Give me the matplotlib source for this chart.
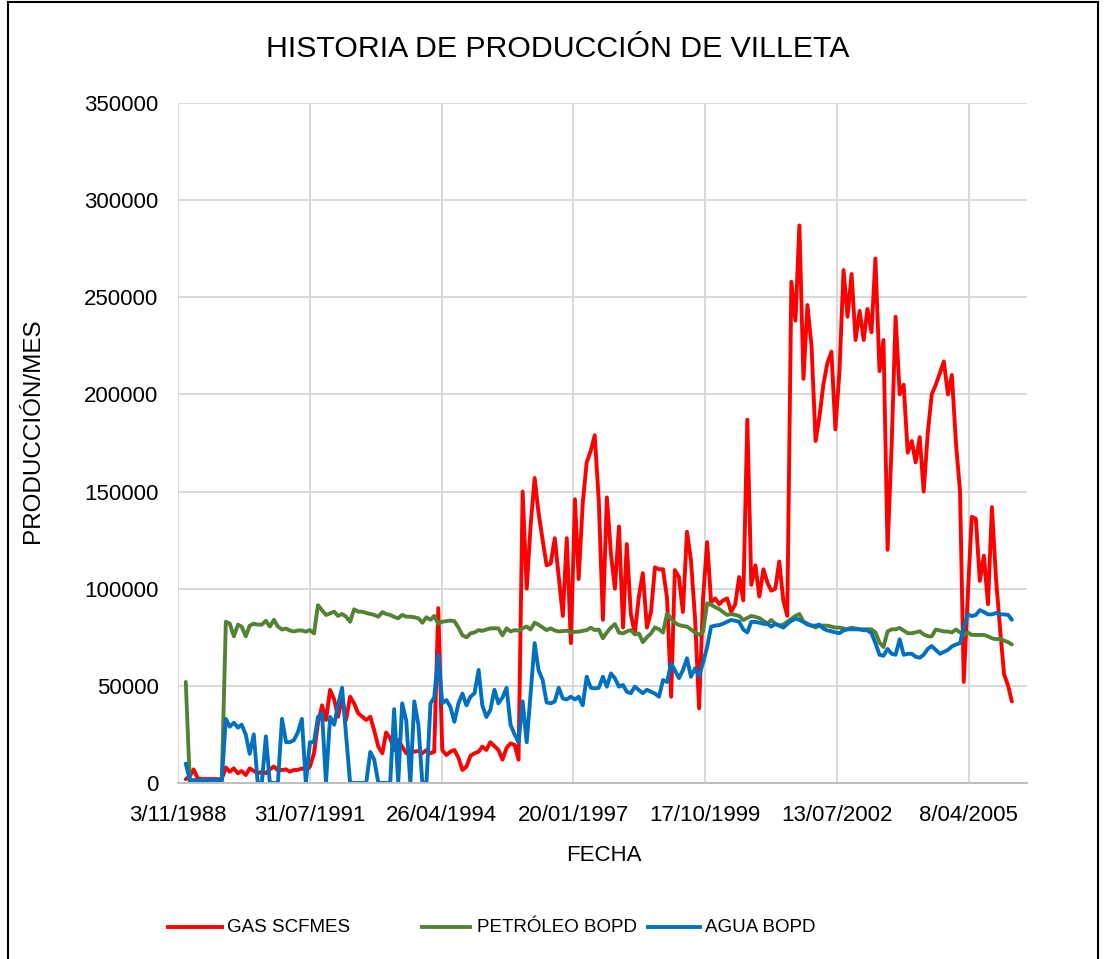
import numpy as np
import pandas as pd
import matplotlib
matplotlib.use("Agg")
import matplotlib.pyplot as plt
from matplotlib.lines import Line2D

plt.rcParams['font.family'] = ['Liberation Sans', 'DejaVu Sans']

# ---------------- data ----------------
title = "HISTORIA DE PRODUCCIÓN DE VILLETA"
x_label = "FECHA"
y_label = "PRODUCCIÓN/MES"
series_names = ["GAS SCFMES", "PETRÓLEO BOPD", "AGUA BOPD"]
first_month = "1989-01-01"
axis_start = "3/11/1988"
x_tick_labels = ["3/11/1988", "31/07/1991", "26/04/1994", "20/01/1997",
                 "17/10/1999", "13/07/2002", "8/04/2005"]
y_ticks = [0, 50000, 100000, 150000, 200000, 250000, 300000, 350000]

gas = [
    2000, 3500, 7000, 2500, 2000, 2000, 2000, 2000, 2000, 2000, 8000, 5800,
    7500, 5000, 6200, 4100, 7500, 6200, 5000, 5800, 5000, 7000, 8500, 6500,
    6700, 7000, 5800, 6700, 6700, 7500, 6500, 8400, 15300, 30700, 40000, 32400,
    47900, 43000, 34100, 43600, 32400, 44400, 41000, 35900, 34100, 32400, 34100, 27000,
    18700, 15300, 26000, 23000, 17000, 22100, 18700, 15300, 17000, 16100, 16500, 15300,
    17000, 15300, 16000, 90000, 17000, 14400, 16100, 17000, 13000, 6700, 8400, 14000,
    15300, 16100, 18700, 17000, 21000, 19000, 17000, 12000, 18000, 20400, 19600, 12000,
    150000, 100000, 132000, 157000, 139000, 125000, 112000, 113000, 126000, 106000, 86000, 126000,
    72000, 146000, 105000, 144000, 165000, 171000, 179000, 145000, 84000, 147000, 118000, 100000,
    132000, 80000, 123000, 87000, 77000, 96000, 108000, 80000, 88000, 111000, 110000, 110000,
    95000, 44400, 109600, 106000, 88000, 129300, 114800, 85000, 38400, 95000, 124000, 93000,
    95000, 92000, 94000, 95000, 88000, 92000, 106000, 94000, 187000, 102000, 112000, 96000,
    110000, 103000, 99000, 100000, 114000, 94000, 86000, 258000, 238000, 287000, 208000, 246000,
    225000, 176000, 188000, 205000, 216000, 222000, 182000, 212000, 264000, 240000, 262000, 228000,
    243000, 228000, 244000, 232000, 270000, 212000, 228000, 120000, 174000, 240000, 200000, 205000,
    170000, 176000, 165000, 178000, 150000, 180000, 200000, 205000, 211000, 217000, 200000, 210000,
    175000, 150000, 52000, 97000, 137000, 136000, 104000, 117000, 92000, 142000, 105000, 80000,
    56000, 50000, 42000,
]

oil = [
    52000, 0, 0, 0, 0, 0, 0, 0, 0, 0, 83000, 82000,
    75500, 81500, 80500, 75500, 81000, 82000, 81500, 81500, 83500, 80500, 84000, 80500,
    79000, 79500, 78500, 78000, 78500, 78500, 77900, 78700, 77000, 91500, 89000, 86500,
    87300, 88200, 86000, 87000, 85600, 83000, 89400, 88200, 88200, 87500, 87000, 86500,
    85600, 88000, 87000, 86500, 85500, 84800, 86500, 85600, 85600, 85300, 84800, 82500,
    85300, 84000, 86000, 82000, 83000, 83300, 83600, 83300, 80000, 76000, 75000, 77000,
    77500, 78700, 78300, 79000, 79600, 79600, 79600, 76000, 79600, 78000, 78700, 78400,
    79600, 80500, 79000, 82500, 81500, 80000, 78700, 79600, 78500, 78000, 78200, 78400,
    77500, 77800, 77900, 78300, 78700, 79900, 78700, 79000, 74500, 77500, 80000, 81800,
    77400, 77000, 78000, 78700, 76500, 77000, 72500, 75000, 77000, 80100, 79100, 77400,
    87300, 84500, 82500, 81300, 80800, 80500, 79000, 77500, 76200, 78000, 92500, 91800,
    90500, 89500, 88000, 86500, 87000, 86500, 86000, 83900, 85000, 86000, 85500, 84900,
    83500, 82000, 83900, 82000, 81000, 81500, 83000, 84500, 86000, 87000, 83000, 82000,
    81000, 80000, 81000, 81000, 81000, 80500, 80000, 80000, 79500, 79100, 80000, 79500,
    79100, 79100, 79100, 79100, 77500, 72300, 70000, 78000, 79100, 79100, 79800, 78500,
    77100, 77100, 77500, 78100, 76500, 75500, 75500, 79000, 78500, 78000, 78000, 77500,
    79000, 77500, 76000, 77500, 76200, 76200, 76200, 76200, 75500, 74500, 74000, 74200,
    73300, 72500, 71300,
]

water = [
    10000, 1500, 1500, 1500, 1500, 1500, 1500, 1500, 1500, 1500, 33000, 29000,
    31000, 28500, 30000, 25000, 15000, 25000, 0, 0, 24000, 0, 0, 0,
    33000, 21000, 21000, 22000, 26000, 33000, 0, 21000, 21000, 34000, 36000, 0,
    34000, 30000, 40000, 49000, 25000, 0, 0, 0, 0, 0, 16000, 12000,
    0, 0, 0, 0, 38000, 0, 41000, 32000, 0, 42000, 30000, 0,
    0, 41000, 44000, 66000, 41000, 42700, 39300, 31500, 41000, 46000, 40000, 44400,
    46200, 58200, 40000, 34000, 37600, 48000, 41000, 44000, 49000, 30000, 25000, 21000,
    42000, 21000, 46000, 72000, 58000, 53000, 41500, 41000, 42000, 49000, 43500, 43000,
    44400, 43000, 44400, 40000, 54700, 49000, 48700, 49000, 54700, 49600, 56400, 53900,
    49600, 50400, 47000, 46200, 49600, 47900, 46200, 48000, 47000, 46000, 44400, 53000,
    52000, 61600, 58000, 54000, 58000, 64200, 54700, 59000, 55000, 62000, 70000, 80500,
    81000, 81300, 82000, 83000, 83900, 83500, 83000, 79000, 77500, 83000, 82900, 82500,
    81900, 81900, 80500, 81900, 81000, 80000, 81900, 83500, 84500, 84000, 82900, 81500,
    81000, 81000, 81500, 79500, 78500, 78100, 77500, 77100, 78500, 79100, 79100, 79100,
    79100, 78600, 78600, 77100, 72000, 66000, 65500, 69000, 66500, 66000, 74000, 66000,
    66500, 66500, 65000, 64500, 66000, 69000, 70500, 68500, 66500, 67500, 68500, 70300,
    71300, 72000, 80000, 86800, 85900, 86500, 89000, 88000, 86800, 86800, 87500, 86800,
    86800, 86500, 84000,
]

colors = ["#FF0000", "#548235", "#0070C0"]

# ---------------- figure ----------------
W, H = 1105, 959
fig = plt.figure(figsize=(W / 100, H / 100), dpi=100)
fig.patch.set_facecolor("white")

L, R, T, B = 178, 1027, 103, 783
ax = fig.add_axes([L / W, 1 - B / H, (R - L) / W, (B - T) / H])

dates = pd.date_range(first_month, periods=len(gas), freq="MS")
lines = []
for vals, c, name in zip([gas, oil, water], colors, series_names):
    ln, = ax.plot(dates, vals, color=c, lw=2.8, label=name,
                  solid_joinstyle="round", solid_capstyle="round")
    lines.append(ln)

t0 = pd.to_datetime(axis_start, format="%d/%m/%Y")
ax.set_xlim(t0, t0 + pd.Timedelta(days=6442))
ax.set_ylim(y_ticks[0], y_ticks[-1])

xt = [pd.to_datetime(s, format="%d/%m/%Y") for s in x_tick_labels]
ax.set_xticks(xt)
ax.set_xticklabels(x_tick_labels)
ax.set_yticks(y_ticks)
ax.set_yticklabels([str(v) for v in y_ticks])

ax.grid(True, color="#d9d9d9", lw=1.4)
ax.set_axisbelow(True)
for s in ["top", "right", "left"]:
    ax.spines[s].set_visible(False)
ax.spines["bottom"].set_color("#bfbfbf")
ax.spines["bottom"].set_linewidth(1.4)
ax.tick_params(axis="both", length=0, labelsize=16, colors="#000000")
ax.tick_params(axis="y", pad=14)
ax.tick_params(axis="x", pad=16)

ax.set_xlabel(x_label, fontsize=16)
ax.set_ylabel(y_label, fontsize=17.5)
ax.xaxis.set_label_coords((604 - L) / (R - L), (B - 845) / (B - T))
ax.yaxis.set_label_coords((44 - L) / (R - L), (B - 431) / (B - T))

fig.text(558 / W, 1 - 49 / H, title, ha="center", va="center", fontsize=21.8)

# legend drawn manually at the bottom
leg_y = 1 - 927 / H
leg_items = [(168, 222, 227), (422, 470, 477), (648, 700, 705)]
for (x0, x1, xt_), ln in zip(leg_items, lines):
    fig.add_artist(Line2D([x0 / W, x1 / W], [leg_y, leg_y], color=ln.get_color(),
                          lw=2.8, transform=fig.transFigure))
    fig.text(xt_ / W, leg_y, ln.get_label(), ha="left", va="center", fontsize=13.5)

# outer chart border (left, top, right)
for xs, ys in [([8 / W, 8 / W], [0, 1 - 2 / H]),
               ([8 / W, 1098 / W], [1 - 2 / H, 1 - 2 / H]),
               ([1098 / W, 1098 / W], [0, 1 - 2 / H])]:
    fig.add_artist(Line2D(xs, ys, color="black", lw=1.5, transform=fig.transFigure))

fig.savefig("out.png", dpi=100, facecolor="white")
